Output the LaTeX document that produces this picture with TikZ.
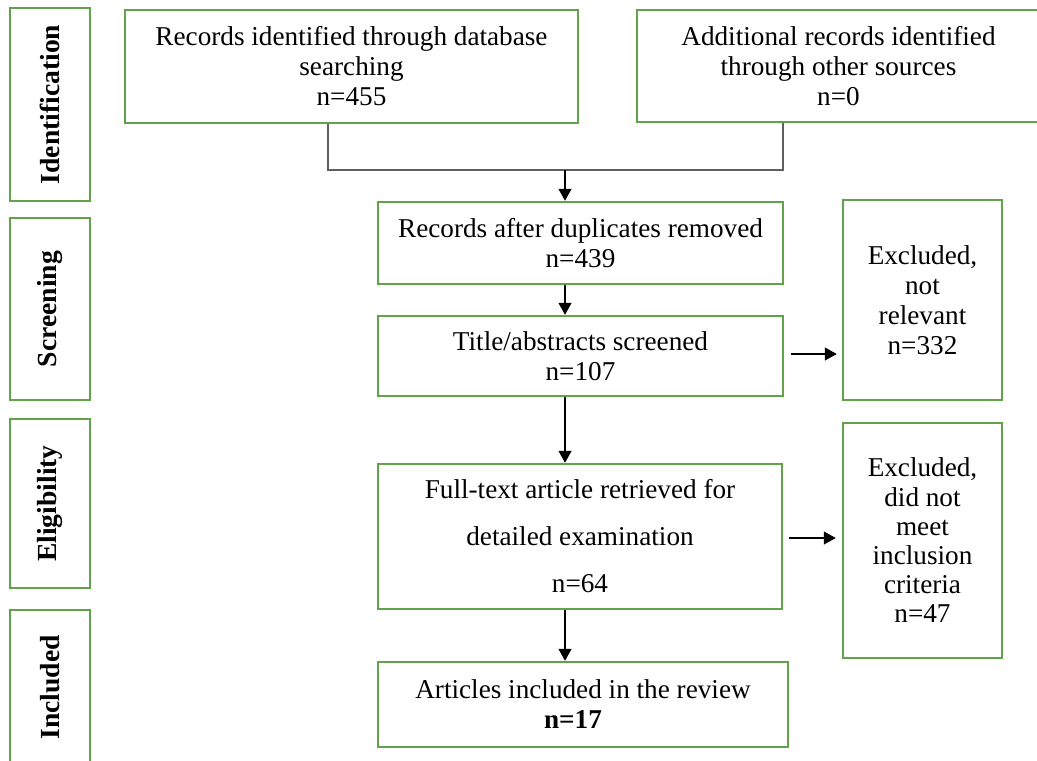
\documentclass[tikz,border=0pt]{standalone}
\usepackage{fontspec}
\setmainfont{Liberation Serif}
\usepackage{graphicx}
\usepackage{tikz}
\usetikzlibrary{arrows.meta}
\usetikzlibrary{calc}
\definecolor{boxgreen}{RGB}{98,162,74}
\definecolor{joingray}{RGB}{95,95,95}
\begin{document}
\begin{tikzpicture}[x=0.5pt,y=-0.5pt,
font=\fontsize{13.6}{15}\selectfont,
flowbox/.style={draw=boxgreen, line width=1.25pt, inner sep=0pt, align=center},
sidebox/.style={flowbox, minimum width=40pt, font=\fontsize{13.8}{15}\selectfont\bfseries},
flow/.style={-{Triangle[width=6.5pt,length=6pt]}, line width=0.6pt},
joinline/.style={draw=joingray, line width=0.6pt}]
\useasboundingbox (0,0) rectangle (1037,760);
\node [sidebox, minimum height=96.5pt] (ident) at (50,104.5) {\rotatebox{90}{Identification}};
\node [sidebox, minimum height=91pt] (screen) at (50,309) {\rotatebox{90}{Screening}};
\node [sidebox, minimum height=84.5pt] (elig) at (50,503.5) {\rotatebox{90}{Eligibility}};
\node [sidebox, minimum height=77.5pt] (incl) at (50,687.5) {\rotatebox{90}{Included}};
\node [flowbox, minimum width=226.5pt, minimum height=56.5pt] (dbrec) at (351.5,66.5) {Records identified through database\\searching\\n=455};
\node [flowbox, minimum width=201.5pt, minimum height=56pt] (otherrec) at (838.5,66) {Additional records identified\\through other sources\\n=0};
\node [flowbox, minimum width=202.5pt, minimum height=41pt] (dedup) at (580.5,243) {Records after duplicates removed\\n=439};
\node [flowbox, minimum width=202.5pt, minimum height=40pt] (screened) at (580.5,356) {Title/abstracts screened\\n=107};
\node [flowbox, minimum width=202pt, minimum height=72.5pt, font=\fontsize{13.6}{23.5}\selectfont] (fulltext) at (580,536.5) {Full-text article retrieved for\\detailed examination\\n=64};
\node [flowbox, minimum width=205pt, minimum height=42.5pt] (included) at (583,704.5) {Articles included in the review\\\textbf{n=17}\kern10pt};
\node [flowbox, minimum width=79.5pt, minimum height=100pt] (exclrel) at (922.5,300) {Excluded,\\not\\relevant\\n=332};
\node [flowbox, minimum width=79.5pt, minimum height=117.5pt, font=\fontsize{13.6}{14.6}\selectfont] (exclcrit) at (922.5,540.5) {Excluded,\\did not\\meet\\inclusion\\criteria\\n=47};
\coordinate (joinL) at (328,170);
\coordinate (joinR) at (783,170);
\coordinate (joinM) at (565,170);
\draw [joinline] (dbrec.south -| joinL) -- (joinL) -- (joinR) -- (otherrec.south -| joinR);
\draw [flow] (joinM) -- (dedup.north -| joinM);
\draw [flow] (dedup.south -| joinM) -- (screened.north -| joinM);
\draw [flow] (screened.south -| joinM) -- (fulltext.north -| joinM);
\draw [flow] (fulltext.south -| joinM) -- (included.north -| joinM);
\draw [flow, shorten <=3.5pt, shorten >=2.5pt] (screened.east |- 0,354) -- (exclrel.west |- 0,354);
\draw [flow, shorten <=3pt, shorten >=3pt] (fulltext.east |- 0,538) -- (exclcrit.west |- 0,538);
\end{tikzpicture}
\end{document}
